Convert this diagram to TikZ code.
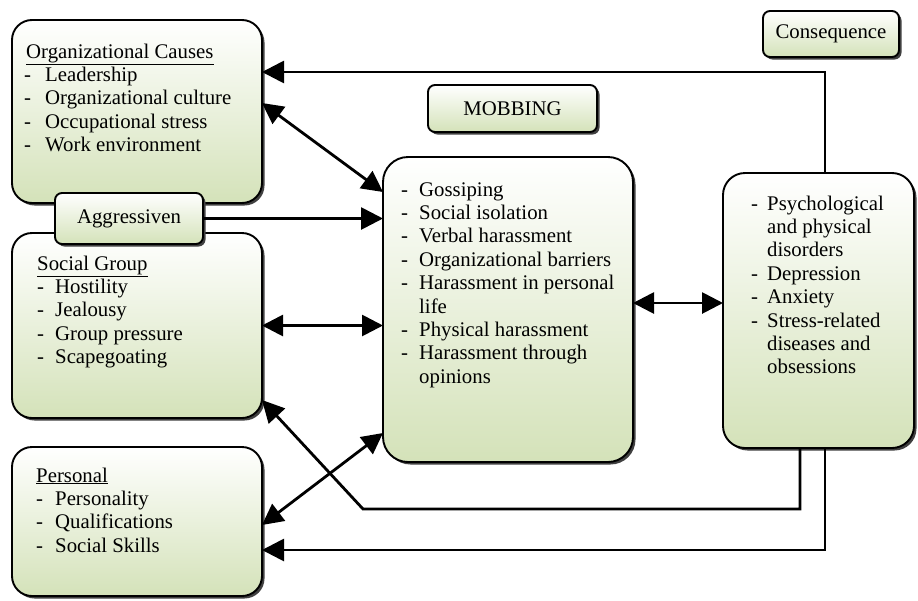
\documentclass[tikz,border=0pt]{standalone}
\usepackage{fontspec}
\setmainfont{Liberation Serif}
\usetikzlibrary{arrows.meta,shadows,calc}
\definecolor{gbot}{HTML}{D4E2B9}
\newlength\ind
\newcommand\li{\makebox[\ind][l]{-}}
\newcommand\cont{\hspace*{\ind}}
\tikzset{
  box/.style={draw=black, line width=1.9pt, top color=white, bottom color=gbot,
    drop shadow={shadow xshift=2.5pt, shadow yshift=-2.5pt, fill=black!75, opacity=1},
    outer sep=0pt, inner sep=0pt, font=\fontsize{20.8}{23.4}\selectfont},
  txt/.style={anchor=base west, inner sep=0pt, font=\fontsize{20.8}{23.4}\selectfont},
  conn/.style={line width=2.8pt, line join=miter},
  arr/.style={conn, -{Triangle[length=22pt,width=22pt]}},
  darr/.style={conn, {Triangle[length=21pt,width=21pt]}-{Triangle[length=21pt,width=21pt]}},
}
\begin{document}
\begin{tikzpicture}[x=1pt,y=-1pt]
\useasboundingbox (0,0) rectangle (918,600);
% boxes
\node[box, minimum width=250pt, minimum height=183pt, rounded corners=20pt] (org) at (137,111.5) {};
\node[box, minimum width=250pt, minimum height=185pt, rounded corners=20pt] (soc) at (137,325.5) {};
\node[box, minimum width=148pt, minimum height=51pt, rounded corners=7pt] (agg) at (129,218.5) {Aggressiven};
\node[box, minimum width=250pt, minimum height=149pt, rounded corners=20pt] (pers) at (137,521.5) {};
\node[box, minimum width=169pt, minimum height=47pt, rounded corners=7pt] (mob) at (512.5,108.5) {MOBBING};
\node[box, minimum width=250pt, minimum height=305pt, rounded corners=25pt] (cen) at (508,309.5) {};
\node[box, minimum width=191pt, minimum height=275pt, rounded corners=22pt] (rgt) at (818.5,310.5) {};
\node[box, minimum width=136pt, minimum height=46pt, rounded corners=7pt] (cons) at (831,34) {Consequence};
% texts
\node[txt] (orgt) at (24,58) {\setlength\ind{21pt}\begin{tabular}[t]{@{}l@{}}
\hspace*{2pt}\underline{Organizational Causes}\\
\li Leadership\\
\li Organizational culture\\
\li Occupational stress\\
\li Work environment
\end{tabular}};
\node[txt] (soct) at (37,270) {\setlength\ind{18pt}\begin{tabular}[t]{@{}l@{}}
\underline{Social Group}\\
\li Hostility\\
\li Jealousy\\
\li Group pressure\\
\li Scapegoating
\end{tabular}};
\node[txt] (perst) at (36,482) {\setlength\ind{19pt}\begin{tabular}[t]{@{}l@{}}
\underline{Personal}\\
\li Personality\\
\li Qualifications\\
\li Social Skills
\end{tabular}};
\node[txt] (cent) at (401,196) {\setlength\ind{18pt}\begin{tabular}[t]{@{}l@{}}
\li Gossiping\\
\li Social isolation\\
\li Verbal harassment\\
\li Organizational barriers\\
\li Harassment in personal\\
\cont life\\
\li Physical harassment\\
\li Harassment through\\
\cont opinions
\end{tabular}};
\node[txt] (rgtt) at (751,210) {\setlength\ind{16pt}\begin{tabular}[t]{@{}l@{}}
\li Psychological\\
\cont and physical\\
\cont disorders\\
\li Depression\\
\li Anxiety\\
\li Stress-related\\
\cont diseases and\\
\cont obsessions
\end{tabular}};
% connectors
\coordinate (k1) at (825,72);
\coordinate (k2) at (0,103);
\coordinate (k3) at (0,192);
\coordinate (k4) at (0,303);
\coordinate (k5) at (800,509);
\coordinate (k6) at (363,509);
\coordinate (k7) at (0,400);
\coordinate (k8) at (825,550);
\coordinate (k9) at (0,433);
\coordinate (k10) at (0,525);
\draw[arr] (rgt.north -| k1) -- (k1) -- (org.east |- k1);
\draw[darr] (org.east |- k2) -- (cen.west |- k3);
\draw[arr] (agg.east) -- (cen.west |- agg.east);
\draw[darr] (soc.east) -- (cen.west |- soc.east);
\draw[darr] (cen.east |- k4) -- (rgt.west |- k4);
\draw[arr] (rgt.south -| k5) -- (k5) -- (k6) -- (soc.east |- k7);
\draw[arr] (rgt.south -| k8) -- (k8) -- (pers.east |- k8);
\draw[darr] (cen.west |- k9) -- (pers.east |- k10);
\end{tikzpicture}
\end{document}
